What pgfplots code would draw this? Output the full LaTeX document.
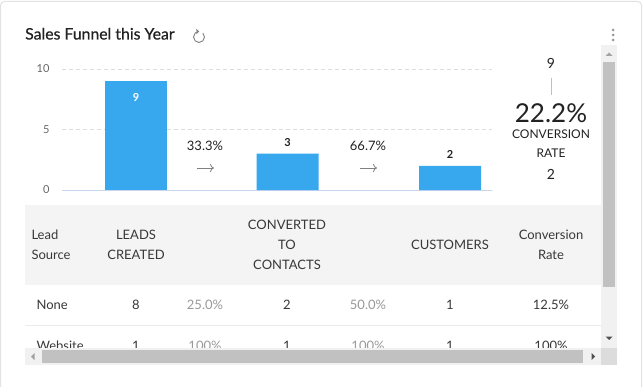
\documentclass[border=0pt]{standalone}
\usepackage{pgfplots}
\pgfplotsset{compat=1.18}
\usepackage{fontspec}
\setmainfont{Lato}
\newfontfamily\titlefont[FakeBold=0.6]{Lato}
\usetikzlibrary{arrows.meta}
\definecolor{barblue}{HTML}{38A8EE}
\definecolor{axisblue}{HTML}{C9D5EC}
\definecolor{gridgray}{HTML}{DDDDDD}
\definecolor{ticktext}{HTML}{666666}
\definecolor{darktext}{HTML}{222222}
\definecolor{tabletext}{HTML}{383838}
\definecolor{lighttext}{HTML}{9A9A9A}
\definecolor{headbg}{HTML}{F4F4F4}
\definecolor{rowline}{HTML}{EBEBEB}
\definecolor{sbtrack}{HTML}{F1F1F1}
\definecolor{sbthumb}{HTML}{C1C1C1}
\definecolor{sbcorner}{HTML}{DCDCDC}
\definecolor{sbarrow}{HTML}{505050}
\definecolor{sbarrowlt}{HTML}{A3A3A3}
\definecolor{cardborder}{HTML}{E2E2E2}
\newcommand{\fs}[1]{\fontsize{#1}{#1}\selectfont}
\begin{document}
\begin{tikzpicture}
\begin{scope}[x=1pt,y=-1pt]
\useasboundingbox (0,0) rectangle (644,387);
\fill[white] (0,0) rectangle (644,387);
\draw[cardborder, line width=1pt, rounded corners=4pt] (0.5,1.5) rectangle (641.5,400);
% title
\node[anchor=base west, inner sep=0, text=darktext, font=\titlefont\fs{15.8}] at (25,39.5) {Sales Funnel this Year};
\begin{scope}[shift={(199,37)}, yscale=-1]
\draw[gray, line width=0.9pt, -{Straight Barb[length=2pt,width=4pt]}] (45:5.5) arc[start angle=45, end angle=-270, radius=5.5];
\end{scope}
% menu dots
\fill[gray!80] (613,30) circle (1.5) (613,35) circle (1.5) (613,40) circle (1.5);
\end{scope}
% chart
\begin{axis}[
  at={(62pt,-190pt)}, anchor=south west,
  scale only axis, width=430pt, height=121pt,
  xmin=62, xmax=492, ymin=0, ymax=10,
  axis line style={draw=none},
  xtick=\empty,
  ytick={5,10}, extra y ticks={0},
  extra y tick style={major grid style={solid, axisblue, line width=1pt}},
  ymajorgrids, major grid style={gridgray, line width=0.7pt, dash pattern=on 4pt off 3pt},
  major tick length=0pt,
  /pgf/number format/assume math mode=true,
  tick label style={font=\fs{11}, text=ticktext},
  yticklabel style={xshift=-9pt},
  clip=false,
  ybar, bar width=62, bar shift=0pt,
]
\addplot[fill=barblue, draw=none, nodes near coords,
  nodes near coords style={anchor=center, yshift=-16pt, text=white, font=\bfseries\fs{11}}]
  coordinates {(136,9)};
\addplot[fill=barblue, draw=none, nodes near coords,
  nodes near coords style={anchor=center, yshift=11pt, text=darktext, font=\bfseries\fs{11}}]
  coordinates {(287.5,3) (450,2)};
\end{axis}
\begin{scope}[x=1pt,y=-1pt]
% funnel step labels
\node[font=\fs{13}, text=darktext] at (205,146) {33.3\%};
\node[font=\fs{13}, text=darktext] at (368,146) {66.7\%};
\draw[gray, line width=0.8pt, -{To[length=4pt,width=8pt]}] (197,168) -- (214,168);
\draw[gray, line width=0.8pt, -{To[length=4pt,width=8pt]}] (360,168) -- (377,168);
% conversion rate
\node[font=\fs{14}, text=darktext] at (551,63) {9};
\draw[gray!50, line width=0.8pt] (551,78) -- (551,95);
\node[font=\fs{26}, text=darktext] at (551,113) {22.2\%};
\node[font=\fs{12}, text=darktext] at (551,134) {CONVERSION};
\node[font=\fs{12}, text=darktext] at (551,153) {RATE};
\node[font=\fs{14}, text=darktext] at (551,174) {2};
% table
\begin{scope}
\clip (25,205) rectangle (601,348);
\fill[headbg] (25,205) rectangle (601,285);
\begin{scope}[every node/.style={font=\fs{13}, text=tabletext}]
\node[anchor=west] at (28,235) {Lead};
\node[anchor=west] at (28,255) {Source};
\node at (136,235) {LEADS};
\node at (136,255) {CREATED};
\node at (287,225) {CONVERTED};
\node at (287,245) {TO};
\node at (287,265) {CONTACTS};
\node at (450,245) {CUSTOMERS};
\node at (551,235) {Conversion};
\node at (551,255) {Rate};
\node[anchor=west] at (33,305) {None};
\node at (136,305) {8};
\node[text=lighttext] at (205,305) {25.0\%};
\node at (287,305) {2};
\node[text=lighttext] at (368,305) {50.0\%};
\node at (450,305) {1};
\node at (551,305) {12.5\%};
\node[anchor=west] at (33,346) {Website};
\node at (136,346) {1};
\node[text=lighttext] at (205,346) {100\%};
\node at (287,346) {1};
\node[text=lighttext] at (368,346) {100\%};
\node at (450,346) {1};
\node at (551,346) {100\%};
\end{scope}
\draw[rowline, line width=1pt] (25,325) -- (601,325);
\end{scope}
% scrollbars
\fill[sbtrack] (601,45) rectangle (617,348);
\fill[sbthumb] (603,62) rectangle (615,287);
\fill[sbarrowlt] (605.5,56) -- (612.5,56) -- (609,52.5) -- cycle;
\fill[sbarrow] (605.5,336.5) -- (612.5,336.5) -- (609,340) -- cycle;
\fill[sbtrack] (25,348) rectangle (601,365);
\fill[sbcorner] (601,348) rectangle (617,365);
\fill[sbthumb] (42,350) rectangle (583,363);
\fill[sbarrowlt] (34.5,353) -- (34.5,360) -- (31,356.5) -- cycle;
\fill[sbarrow] (591.5,353) -- (591.5,360) -- (595,356.5) -- cycle;
\end{scope}
\end{tikzpicture}
\end{document}
